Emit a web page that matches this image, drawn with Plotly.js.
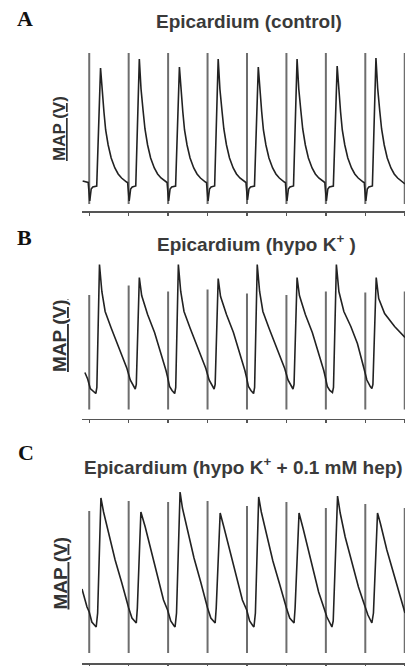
<!DOCTYPE html>
<html>
<head>
<meta charset="utf-8">
<script src="https://cdn.plot.ly/plotly-3.0.1.min.js"></script>
<style>
html,body{margin:0;padding:0;background:#fff;}
#chart{width:405px;height:666px;}
</style>
</head>
<body>
<div id="chart"></div>
<script>
// Stimulus times (ms) shared by all three recordings
const stimT = [0, 300, 600, 900, 1200, 1500, 1800, 2100, 2400];

// Panel A: Epicardium (control)
const stimTopA = [1.58, 1.58, 1.58, 1.58, 1.58, 1.58, 1.58, 1.58, 1.58];
const stimBaseA = 0.07;
const aTime = [-50,-8,4,15,27,57,86,99,112,125,144,167,195,220,246,284,
 292,304,315,327,354,381,394,410,424,444,467,495,520,546,584,
 592,604,615,627,657,686,699,712,725,744,767,795,820,846,884,
 892,904,915,927,954,981,994,1010,1024,1044,1067,1095,1120,1146,1184,
 1192,1204,1215,1227,1257,1286,1299,1312,1325,1344,1367,1395,1420,1446,1484,
 1492,1504,1515,1527,1554,1581,1594,1610,1624,1644,1667,1695,1720,1746,1784,
 1792,1804,1815,1827,1857,1886,1899,1912,1925,1944,1967,1995,2020,2046,2084,
 2092,2104,2115,2127,2154,2181,2194,2210,2224,2244,2267,2295,2320,2346,2384,2402];
const aMap = [0.30,0.285,0.10,0.22,0.24,0.25,1.43,1.16,0.99,0.81,0.66,0.53,0.43,0.37,0.33,0.29,
 0.285,0.10,0.22,0.24,0.25,1.52,1.22,1.00,0.82,0.66,0.53,0.43,0.37,0.33,0.29,
 0.285,0.10,0.22,0.24,0.25,1.44,1.16,0.99,0.81,0.66,0.53,0.43,0.37,0.33,0.29,
 0.285,0.10,0.22,0.24,0.25,1.52,1.22,1.00,0.82,0.66,0.53,0.43,0.37,0.33,0.29,
 0.285,0.11,0.22,0.24,0.25,1.44,1.16,0.99,0.81,0.66,0.53,0.43,0.37,0.33,0.29,
 0.285,0.10,0.22,0.24,0.25,1.52,1.22,1.00,0.82,0.66,0.53,0.43,0.37,0.33,0.29,
 0.285,0.10,0.22,0.24,0.25,1.45,1.17,0.99,0.81,0.66,0.53,0.43,0.37,0.33,0.29,
 0.285,0.10,0.22,0.24,0.25,1.53,1.23,1.00,0.82,0.66,0.53,0.43,0.37,0.33,0.29,0.27];

// Panel B: Epicardium (hypo K+)
const stimTopB = [1.235, 1.33, 1.27, 1.29, 1.25, 1.235, 1.27, 1.26, 1.27];
const stimBaseB = 0.09;
const bTime = [-33,-12,8,26,50,58,78,96,121,167,218,268,
 287,312,338,350,358,381,399,444,497,550,584,
 595,611,630,650,658,678,696,721,767,818,868,
 887,912,938,950,958,981,999,1044,1097,1150,1184,
 1195,1211,1230,1250,1258,1278,1296,1321,1367,1418,1468,
 1487,1512,1538,1550,1558,1581,1599,1644,1697,1750,1784,
 1795,1811,1830,1850,1858,1880,1899,1937,1990,2040,2090,
 2112,2138,2150,2158,2183,2202,2247,2323,2386,2402];
const bMap = [0.46,0.395,0.30,0.275,0.25,0.31,1.54,1.27,1.07,0.905,0.735,0.57,
 0.50,0.385,0.32,0.295,0.34,1.41,1.23,1.04,0.86,0.64,0.48,
 0.42,0.32,0.28,0.25,0.31,1.54,1.27,1.07,0.905,0.735,0.57,
 0.50,0.385,0.32,0.295,0.34,1.40,1.22,1.04,0.86,0.64,0.48,
 0.42,0.32,0.28,0.25,0.31,1.54,1.27,1.07,0.905,0.735,0.57,
 0.50,0.385,0.32,0.295,0.34,1.41,1.23,1.04,0.86,0.64,0.48,
 0.42,0.32,0.28,0.26,0.31,1.54,1.27,1.07,0.92,0.75,0.50,
 0.385,0.32,0.30,0.34,1.41,1.20,1.05,0.92,0.83,0.81];

// Panel C: Epicardium (hypo K+ + 0.1 mM hep)
const stimTopC = [1.52, 1.62, 1.61, 1.62, 1.57, 1.61, 1.55, 1.59, 1.55];
const stimBaseC = 0.10;
const cTime = [-55,-17,0,20,46,53,64,89,109,147,197,248,286,
 300,325,358,366,393,426,490,565,
 596,620,646,653,664,691,709,747,797,848,886,
 900,925,958,966,996,1026,1090,1165,
 1198,1220,1246,1253,1264,1289,1309,1347,1397,1448,1486,
 1500,1525,1558,1566,1596,1626,1690,1745,1783,
 1808,1846,1856,1889,1909,1947,1997,2048,2094,
 2120,2150,2162,2193,2214,2264,2328,2391,2402];
const cMap = [0.74,0.56,0.51,0.41,0.37,0.36,0.50,1.65,1.51,1.30,1.03,0.80,0.60,
 0.55,0.45,0.40,0.55,1.51,1.36,1.03,0.63,
 0.53,0.42,0.37,0.36,0.50,1.71,1.55,1.33,1.05,0.81,0.61,
 0.55,0.45,0.40,0.55,1.50,1.35,1.02,0.63,
 0.53,0.42,0.37,0.36,0.50,1.66,1.51,1.29,1.02,0.79,0.60,
 0.55,0.45,0.40,0.55,1.50,1.35,1.02,0.71,0.56,
 0.46,0.36,0.42,1.67,1.50,1.26,1.00,0.76,0.58,
 0.48,0.40,0.50,1.50,1.40,1.13,0.83,0.53,0.50];

const panelLetters = ['A', 'B', 'C'];
const panelTitles = ['Epicardium (control)', 'Epicardium (hypo K<sup>+</sup> )', 'Epicardium (hypo K<sup>+</sup> + 0.1 mM hep)'];
const yLabel = '<u>MAP (V)</u>';

function stimTrace(tops, base, xa, ya) {
  const x = [], y = [];
  stimT.forEach((t, i) => { x.push(t, t, null); y.push(base, tops[i], null); });
  return {x, y, xaxis: xa, yaxis: ya, mode: 'lines', type: 'scatter',
    line: {color: '#6e6e6e', width: 2}, hoverinfo: 'skip', showlegend: false};
}
function mapTrace(x, y, xa, ya) {
  return {x, y, xaxis: xa, yaxis: ya, mode: 'lines', type: 'scatter',
    line: {color: '#222222', width: 1.6}, hoverinfo: 'skip', showlegend: false};
}

const data = [
  stimTrace(stimTopA, stimBaseA, 'x', 'y'), mapTrace(aTime, aMap, 'x', 'y'),
  stimTrace(stimTopB, stimBaseB, 'x2', 'y2'), mapTrace(bTime, bMap, 'x2', 'y2'),
  stimTrace(stimTopC, stimBaseC, 'x3', 'y3'), mapTrace(cTime, cMap, 'x3', 'y3')
];

const W = 405, H = 666;
const xr = [-55, 2402];
const xdom = [82 / W, 1];
function xBase(anchor, ticks) {
  return {domain: xdom, range: xr, anchor: anchor, showgrid: false, zeroline: false,
    showline: ticks === 'outside', linecolor: '#555', linewidth: 1.5,
    ticks: ticks, ticklen: 3, tickwidth: 1.3, tickcolor: '#555',
    tickmode: 'array', tickvals: stimT, showticklabels: false, fixedrange: true};
}
function yBase(top, bottom, range) {
  return {domain: [1 - bottom / H, 1 - top / H], range: range, visible: false, fixedrange: true};
}

const layout = {
  width: W, height: H,
  margin: {l: 0, r: 0, t: 0, b: 0},
  paper_bgcolor: '#fff', plot_bgcolor: 'rgba(0,0,0,0)',
  showlegend: false,
  xaxis: xBase('y', 'outside'),
  xaxis2: xBase('y2', 'outside'),
  xaxis3: xBase('y3', 'outside'),
  xaxis4: Object.assign(xBase('y', 'inside'), {overlaying: 'x'}),
  xaxis5: Object.assign(xBase('y2', 'inside'), {overlaying: 'x2'}),
  xaxis6: Object.assign(xBase('y3', 'inside'), {overlaying: 'x3'}),
  yaxis: yBase(48, 211, [0, 1.63]),
  yaxis2: yBase(255, 418.5, [0, 1.635]),
  yaxis3: yBase(485, 663, [0, 1.78]),
  annotations: []
};

const letterPos = [[25.5, 19], [24.5, 237.5], [26, 452.5]];
const titlePos = [[248.5, 21], [256.5, 242.5], [243, 466.5]];
const labelPos = [[59, 129, 17], [60, 336, 19], [60, 573.5, 19]];
for (let i = 0; i < 3; i++) {
  layout.annotations.push({xref: 'paper', yref: 'paper', x: letterPos[i][0] / W, y: 1 - letterPos[i][1] / H,
    text: '<b>' + panelLetters[i] + '</b>', showarrow: false, xanchor: 'center', yanchor: 'middle',
    font: {family: 'Liberation Serif, Times New Roman, serif', size: 22, color: '#111'}});
  layout.annotations.push({xref: 'paper', yref: 'paper', x: titlePos[i][0] / W, y: 1 - titlePos[i][1] / H,
    text: '<b>' + panelTitles[i] + '</b>', showarrow: false, xanchor: 'center', yanchor: 'middle',
    font: {family: 'Liberation Sans, Arial, sans-serif', size: 19, color: '#3a3a3a'}});
  layout.annotations.push({xref: 'paper', yref: 'paper', x: labelPos[i][0] / W, y: 1 - labelPos[i][1] / H,
    text: '<b>' + yLabel + '</b>', showarrow: false, xanchor: 'center', yanchor: 'middle', textangle: -90,
    font: {family: 'Liberation Sans, Arial, sans-serif', size: labelPos[i][2], color: '#333'}});
}

Plotly.newPlot('chart', data, layout, {staticPlot: true, displayModeBar: false});
</script>
</body>
</html>
